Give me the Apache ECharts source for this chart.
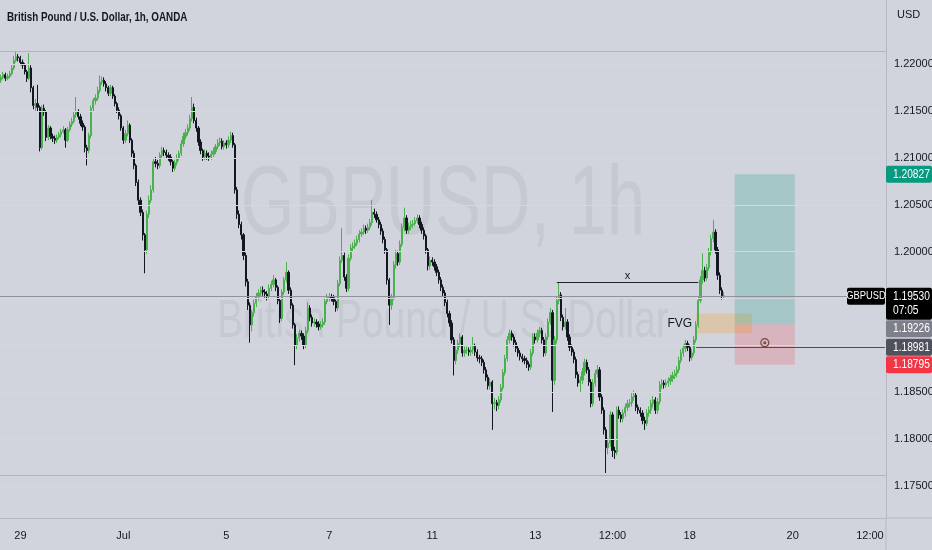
<!DOCTYPE html>
<html><head><meta charset="utf-8">
<script src="https://cdn.jsdelivr.net/npm/echarts@6/dist/echarts.min.js"></script>
<style>html,body{margin:0;padding:0;background:#d1d4dc;}#c{width:932px;height:550px;}</style>
</head><body><div id="c"></div>
<script>
// GBPUSD 1h candles, prices in pips (1/10000)
const opens = [12183,12186,12189,12185,12187,12190,12196,12204,12208,12207,
12202,12199,12192,12185,12196,12175,12156,12158,12154,12111,
12153,12149,12122,12132,12123,12121,12119,12122,12125,12128,
12130,12119,12130,12136,12139,12146,12149,12144,12137,12133,
12111,12108,12124,12153,12161,12164,12172,12181,12183,12179,
12175,12169,12175,12166,12158,12151,12145,12132,12119,12126,
12135,12119,12105,12092,12074,12055,12042,12018,12002,12040,
12055,12066,12096,12094,12092,12103,12108,12106,12103,12101,
12096,12089,12095,12100,12105,12115,12123,12127,12132,12142,
12154,12140,12132,12117,12108,12101,12105,12102,12101,12104,
12107,12112,12116,12118,12112,12116,12114,12119,12124,12114,
12066,12040,12029,12018,11996,11968,11943,11922,11935,11945,
11952,11956,11959,11957,11955,11952,11961,11965,11970,11962,
11948,11929,11957,11970,11978,11959,11943,11922,11900,11908,
11913,11910,11900,11916,11940,11930,11924,11925,11923,11920,
11922,11925,11947,11951,11952,11951,11947,11940,11966,11991,
11996,11973,11961,11993,12004,12006,12009,12013,12019,12021,
12025,12023,12026,12031,12042,12040,12034,12029,12022,12013,
12002,11970,11943,11951,11986,11998,11989,12008,12026,12036,
12023,12027,12029,12030,12033,12036,12029,12023,12017,12002,
11985,11991,11989,11984,11978,11970,11962,11956,11946,11934,
11924,11906,11884,11895,11902,11909,11892,11895,11895,11893,
11895,11899,11893,11887,11886,11882,11874,11866,11857,11861,
11838,11839,11836,11842,11855,11871,11886,11906,11913,11909,
11903,11897,11892,11888,11886,11884,11880,11877,11892,11909,
11906,11913,11916,11906,11892,11909,11925,11935,11863,11906,
11948,11954,11930,11920,11925,11909,11898,11893,11885,11869,
11860,11863,11872,11882,11874,11861,11838,11860,11870,11874,
11845,11831,11810,11791,11796,11826,11788,11786,11831,11826,
11822,11828,11834,11838,11839,11845,11847,11834,11831,11828,
11820,11817,11828,11831,11838,11842,11831,11840,11858,11860,
11858,11860,11862,11865,11868,11870,11874,11884,11892,11897,
11902,11898,11887,11892,11906,11922,11948,11970,11980,11972,
11983,12000,12014,12021,12002,11975,11959,11953];
const closes = [12186,12189,12185,12187,12190,12196,12204,12208,12207,12202,
12199,12192,12185,12196,12175,12156,12158,12154,12111,12153,
12149,12122,12132,12123,12121,12119,12122,12125,12128,12130,
12119,12130,12136,12139,12146,12149,12144,12137,12133,12111,
12108,12124,12153,12161,12164,12172,12181,12183,12179,12175,
12169,12175,12166,12158,12151,12145,12132,12119,12126,12135,
12119,12105,12092,12074,12055,12042,12018,12002,12040,12055,
12066,12096,12094,12092,12103,12108,12106,12103,12101,12096,
12089,12095,12100,12105,12115,12123,12127,12132,12142,12154,
12140,12132,12117,12108,12101,12105,12102,12101,12104,12107,
12112,12116,12118,12112,12116,12114,12119,12124,12114,12066,
12040,12029,12018,11996,11968,11943,11922,11935,11945,11952,
11956,11959,11957,11955,11952,11961,11965,11970,11962,11948,
11929,11957,11970,11978,11959,11943,11922,11900,11908,11913,
11910,11900,11916,11940,11930,11924,11925,11923,11920,11922,
11925,11947,11951,11952,11951,11947,11940,11966,11991,11996,
11973,11961,11993,12004,12006,12009,12013,12019,12021,12025,
12023,12026,12031,12042,12040,12034,12029,12022,12013,12002,
11970,11943,11951,11986,11998,11989,12008,12026,12036,12023,
12027,12029,12030,12033,12036,12029,12023,12017,12002,11985,
11991,11989,11984,11978,11970,11962,11956,11946,11934,11924,
11906,11884,11895,11902,11909,11892,11895,11895,11893,11895,
11899,11893,11887,11886,11882,11874,11866,11857,11861,11838,
11839,11836,11842,11855,11871,11886,11906,11913,11909,11903,
11897,11892,11888,11886,11884,11880,11877,11892,11909,11906,
11913,11916,11906,11892,11909,11925,11935,11863,11906,11948,
11954,11930,11920,11925,11909,11898,11893,11885,11869,11860,
11863,11872,11882,11874,11861,11838,11860,11870,11874,11845,
11831,11810,11791,11796,11826,11788,11786,11831,11826,11822,
11828,11834,11838,11839,11845,11847,11834,11831,11828,11820,
11817,11828,11831,11838,11842,11831,11840,11858,11860,11858,
11860,11862,11865,11868,11870,11874,11884,11892,11897,11902,
11898,11887,11892,11906,11922,11948,11970,11980,11972,11983,
12000,12014,12021,12002,11975,11959,11953,11953];
const highs = [12189,12192,12191,12190,12193,12199,12209,12213,12211,12209,
12205,12201,12194,12212,12199,12177,12163,12178,12156,12156,
12157,12151,12135,12134,12126,12124,12125,12128,12131,12134,
12132,12133,12139,12143,12150,12165,12152,12147,12140,12135,
12114,12127,12156,12164,12168,12176,12188,12187,12186,12182,
12177,12178,12177,12168,12160,12154,12147,12134,12130,12140,
12137,12121,12108,12094,12077,12058,12045,12020,12044,12060,
12071,12100,12101,12098,12106,12112,12111,12109,12106,12104,
12098,12098,12104,12108,12119,12127,12131,12136,12146,12165,
12158,12143,12134,12120,12110,12109,12108,12106,12108,12111,
12115,12120,12122,12121,12119,12119,12123,12128,12127,12116,
12069,12044,12032,12020,11999,11971,11946,11938,11949,11956,
11960,11963,11963,11960,11958,11965,11969,11975,11972,11964,
11950,11960,11973,11989,11980,11962,11945,11924,11912,11917,
11916,11913,11920,11946,11943,11933,11929,11928,11926,11926,
11929,11951,11955,11956,11955,11954,11949,11970,11995,12025,
11999,11976,11997,12008,12010,12013,12017,12023,12025,12029,
12028,12030,12035,12055,12046,12043,12037,12032,12025,12016,
12004,11972,11955,11990,12002,12001,12012,12030,12047,12039,
12031,12033,12034,12037,12040,12039,12032,12026,12019,12004,
11995,11994,11992,11987,11981,11973,11965,11959,11949,11937,
11927,11909,11899,11906,11913,11911,11899,11899,11898,11899,
11909,11902,11896,11890,11889,11885,11877,11869,11865,11863,
11844,11842,11846,11859,11875,11890,11910,11917,11916,11912,
11906,11900,11895,11891,11889,11887,11883,11896,11913,11913,
11917,11920,11919,11909,11913,11929,11940,11938,11910,11952,
11967,11957,11933,11940,11928,11912,11901,11896,11888,11872,
11867,11876,11886,11885,11877,11864,11864,11874,11879,11877,
11848,11834,11813,11801,11830,11829,11792,11835,11835,11829,
11832,11838,11842,11843,11849,11852,11850,11837,11834,11831,
11824,11832,11835,11842,11846,11845,11844,11862,11864,11863,
11864,11866,11869,11872,11874,11878,11888,11896,11901,11906,
11905,11901,11896,11910,11926,11952,11974,11998,11984,11987,
12004,12018,12034,12024,12005,11978,11962,11957];
const lows = [12180,12184,12182,12183,12185,12188,12194,12202,12203,12199,
12195,12189,12181,12183,12170,12152,12150,12150,12107,12109,
12145,12118,12119,12120,12117,12115,12116,12120,12122,12126,
12111,12117,12128,12133,12137,12143,12141,12134,12129,12106,
12092,12105,12121,12150,12157,12161,12169,12178,12176,12171,
12166,12166,12163,12155,12148,12141,12129,12115,12116,12123,
12116,12101,12088,12070,12050,12038,12012,11977,11998,12036,
12052,12063,12090,12088,12089,12100,12102,12099,12097,12092,
12085,12086,12092,12097,12102,12112,12120,12124,12129,12139,
12137,12128,12113,12104,12097,12098,12098,12097,12098,12101,
12104,12109,12113,12109,12109,12110,12111,12116,12111,12062,
12035,12025,12013,11991,11963,11938,11903,11915,11931,11941,
11948,11952,11953,11951,11948,11949,11958,11962,11958,11944,
11924,11926,11954,11967,11955,11939,11918,11879,11896,11904,
11906,11896,11897,11913,11926,11920,11920,11919,11916,11917,
11919,11922,11944,11947,11947,11943,11936,11937,11963,11988,
11969,11957,11958,11990,12000,12003,12006,12010,12016,12018,
12019,12020,12023,12028,12036,12031,12025,12018,12009,11998,
11965,11922,11938,11948,11982,11985,11986,12005,12022,12019,
12019,12023,12025,12027,12030,12025,12019,12013,11998,11980,
11981,11985,11980,11974,11966,11958,11952,11942,11930,11920,
11902,11868,11880,11891,11898,11888,11888,11891,11889,11889,
11891,11889,11883,11881,11878,11870,11862,11853,11853,11810,
11832,11830,11832,11839,11852,11868,11883,11902,11905,11899,
11893,11888,11884,11882,11880,11876,11873,11874,11889,11902,
11903,11909,11902,11888,11889,11906,11922,11829,11858,11902,
11944,11926,11916,11917,11905,11894,11889,11881,11865,11856,
11850,11859,11868,11870,11857,11834,11835,11856,11866,11841,
11827,11805,11764,11784,11792,11781,11779,11783,11822,11818,
11818,11824,11830,11834,11835,11841,11830,11827,11824,11816,
11810,11814,11824,11827,11834,11827,11827,11837,11854,11854,
11855,11856,11858,11861,11864,11866,11871,11881,11888,11893,
11894,11883,11884,11889,11903,11919,11945,11966,11968,11969,
11980,11996,12010,11998,11970,11955,11949,11950];

// time axis (hourly slots incl. empty future slots)
const SLOTS = 413;
const tickIdx = [9, 57, 105, 153, 201, 249, 285, 321, 369, 405];
const tickText = ['29', 'Jul', '5', '7', '11', '13', '12:00', '18', '20', '12:00'];
// price axis
const priceTicks = [1.175, 1.18, 1.185, 1.19, 1.195, 1.2, 1.205, 1.21, 1.215, 1.22];
const yMin = 1.1716, yMax = 1.22685;
// drawings
const lastPrice = 1.19530;
const resistance = 1.2214, support = 1.1762;
const sweepLevel = 1.1967, sweepFrom = 259, sweepTo = 325;
const fvgTop = 1.1934, fvgBottom = 1.1913, fvgFrom = 324, fvgTo = 350;
const tpPrice = 1.20827, entryPrice = 1.19226, slPrice = 1.18795, posFrom = 342, posTo = 370;
const orderPrice = 1.18981, orderFrom = 324, eyeIdx = 356, eyePrice = 1.1903;

const P = v => v / 10000;
const cats = Array.from({length: SLOTS}, (_, i) => String(i));
const candles = opens.map((o, i) => [P(o), P(closes[i]), P(lows[i]), P(highs[i])]);

const FONT = "'Liberation Sans', Arial, sans-serif";
const chart = echarts.init(document.getElementById('c'), null, {renderer: 'canvas'});
const gridLines = priceTicks.map(v => ({yAxis: v, lineStyle: {color: '#d4d7de', width: 1, type: 'solid'}}));

chart.setOption({
  animation: false,
  backgroundColor: '#d1d4dc',
  grid: {left: 0, right: 46, top: 0, bottom: 32, containLabel: false, outerBoundsMode: 'none'},
  xAxis: {
    type: 'category', data: cats, boundaryGap: true,
    axisLine: {show: true, lineStyle: {color: '#b6b9c2'}},
    axisTick: {show: false}, splitLine: {show: false},
    axisLabel: {
      interval: (i) => tickIdx.indexOf(i) >= 0,
      formatter: (v, i) => tickText[tickIdx.indexOf(Number(v))] || '',
      color: '#131722', fontSize: 11, fontFamily: FONT, margin: 12
    }
  },
  yAxis: {
    type: 'value', position: 'right', min: yMin, max: yMax, scale: true,
    axisLine: {show: true, lineStyle: {color: '#b6b9c2'}},
    axisTick: {show: false}, splitLine: {show: false}, minorSplitLine: {show: false},
    axisLabel: {customValues: priceTicks, formatter: v => v.toFixed(5), color: '#131722', fontSize: 11, fontFamily: FONT, margin: 8}
  },
  series: [{
    type: 'candlestick', data: candles, barWidth: '80%',
    itemStyle: {color: '#4caf50', color0: '#131722', borderColor: '#4caf50', borderColor0: '#131722', borderWidth: 1},
    markLine: {
      silent: true, symbol: ['none', 'none'], animation: false, precision: 6, label: {show: false},
      data: gridLines.concat([
        {yAxis: resistance, lineStyle: {color: '#b0b3bc', width: 1, type: 'solid'}},
        {yAxis: support, lineStyle: {color: '#b0b3bc', width: 1, type: 'solid'}},
        {yAxis: lastPrice, lineStyle: {color: '#90939d', width: 1, type: 'solid'}},
        [{coord: [String(sweepFrom), sweepLevel], lineStyle: {color: '#1e222d', width: 1, type: 'solid'},
          label: {show: true, position: 'middle', formatter: 'x', color: '#131722', fontSize: 11, fontFamily: FONT, distance: 1}},
         {coord: [String(sweepTo), sweepLevel]}],
        [{coord: [String(orderFrom), orderPrice], lineStyle: {color: '#4a4e59', width: 1, type: 'solid'}},
         {coord: [String(SLOTS - 1), orderPrice]}]
      ])
    },
    markArea: {
      silent: true,
      data: [
        [{coord: [String(fvgFrom), fvgTop], itemStyle: {color: 'rgba(255,152,0,0.22)'},
          label: {show: true, position: 'left', formatter: 'FVG', color: '#131722', fontSize: 12, fontFamily: FONT, distance: 4}},
         {coord: [String(fvgTo), fvgBottom]}],
        [{coord: [String(posFrom), tpPrice], itemStyle: {color: 'rgba(8,153,129,0.22)'}, label: {show: false}},
         {coord: [String(posTo), entryPrice]}],
        [{coord: [String(posFrom), entryPrice], itemStyle: {color: 'rgba(242,54,69,0.2)'}, label: {show: false}},
         {coord: [String(posTo), slPrice]}]
      ]
    },
    markPoint: {
      silent: true, label: {show: false},
      data: [
        {coord: [String(eyeIdx), eyePrice], symbol: 'circle', symbolSize: 8,
         itemStyle: {color: 'rgba(0,0,0,0)', borderColor: '#7a4a3a', borderWidth: 1.2}},
        {coord: [String(eyeIdx), eyePrice], symbol: 'circle', symbolSize: 3, itemStyle: {color: '#7a4a3a'}}
      ]
    }
  }]
});

// overlays: watermark, title and price tags positioned through the axis scale
const yPix = v => chart.convertToPixel({yAxisIndex: 0}, v);
const axisX = chart.convertToPixel({xAxisIndex: 0}, String(SLOTS - 1)) + 1.07;
const plotBottom = yPix(yMin);
const midX = axisX / 2;
function tag(price, text, bg, cy) {
  const c = cy === undefined ? yPix(price) : cy;
  return [
    {type: 'rect', z: 100, shape: {x: axisX, y: c - 8.5, width: 932 - axisX, height: 17, r: 2}, style: {fill: bg}},
    {type: 'text', z: 101, x: axisX + 7, y: c, scaleX: 0.85, style: {text: text, fill: '#ffffff', font: '12px ' + FONT, textVerticalAlign: 'middle'}}
  ];
}
const lp = yPix(lastPrice);
const blackBottom = lp + 24;
const elems = [
  {type: 'text', z: 0, x: midX, y: yPix(1.20475), scaleX: 0.7,
   style: {text: 'GBPUSD, 1h', fill: '#c6c9d1', font: '98px "Liberation Sans"', textAlign: 'center', textVerticalAlign: 'middle'}},
  {type: 'text', z: 0, x: midX, y: yPix(1.1925), scaleX: 0.72,
   style: {text: 'British Pound / U.S. Dollar', fill: '#c6c9d1', font: '54px "Liberation Sans"', textAlign: 'center', textVerticalAlign: 'middle'}},
  {type: 'text', z: 100, x: 7, y: 18, scaleX: 0.82,
   style: {text: 'British Pound / U.S. Dollar, 1h, OANDA', fill: '#131722', font: '600 12px "Liberation Sans"', textVerticalAlign: 'middle'}},
  {type: 'text', z: 100, x: axisX + 11, y: 15, style: {text: 'USD', fill: '#131722', font: '11px ' + FONT, textVerticalAlign: 'middle'}},
  {type: 'line', z: 100, shape: {x1: axisX, y1: plotBottom, x2: 932, y2: plotBottom}, style: {stroke: '#b6b9c2', lineWidth: 1}},
  {type: 'line', z: 100, shape: {x1: axisX, y1: plotBottom, x2: axisX, y2: 550}, style: {stroke: '#b6b9c2', lineWidth: 1}},
  // GBPUSD label + last price with countdown
  {type: 'rect', z: 100, shape: {x: axisX - 39, y: lp - 8, width: 38, height: 17, r: 2}, style: {fill: '#000000'}},
  {type: 'text', z: 101, x: axisX - 20, y: lp + 0.5, scaleX: 0.85, style: {text: 'GBPUSD', fill: '#ffffff', font: '11px ' + FONT, textAlign: 'center', textVerticalAlign: 'middle'}},
  {type: 'rect', z: 100, shape: {x: axisX, y: lp - 8, width: 932 - axisX, height: 32, r: 2}, style: {fill: '#000000'}},
  {type: 'text', z: 101, x: axisX + 7, y: lp + 0.5, scaleX: 0.85, style: {text: '1.19530', fill: '#ffffff', font: '12px ' + FONT, textVerticalAlign: 'middle'}},
  {type: 'text', z: 101, x: axisX + 7, y: lp + 15, scaleX: 0.85, style: {text: '07:05', fill: '#ffffff', font: '12px ' + FONT, textVerticalAlign: 'middle'}}
].concat(
  tag(tpPrice, '1.20827', '#089981'),
  tag(entryPrice, '1.19226', '#7d808b', Math.max(yPix(entryPrice), blackBottom + 9)),
  tag(orderPrice, '1.18981', '#4f525d'),
  tag(slPrice, '1.18795', '#f23645')
);
chart.setOption({graphic: {elements: elems}});
</script></body></html>
